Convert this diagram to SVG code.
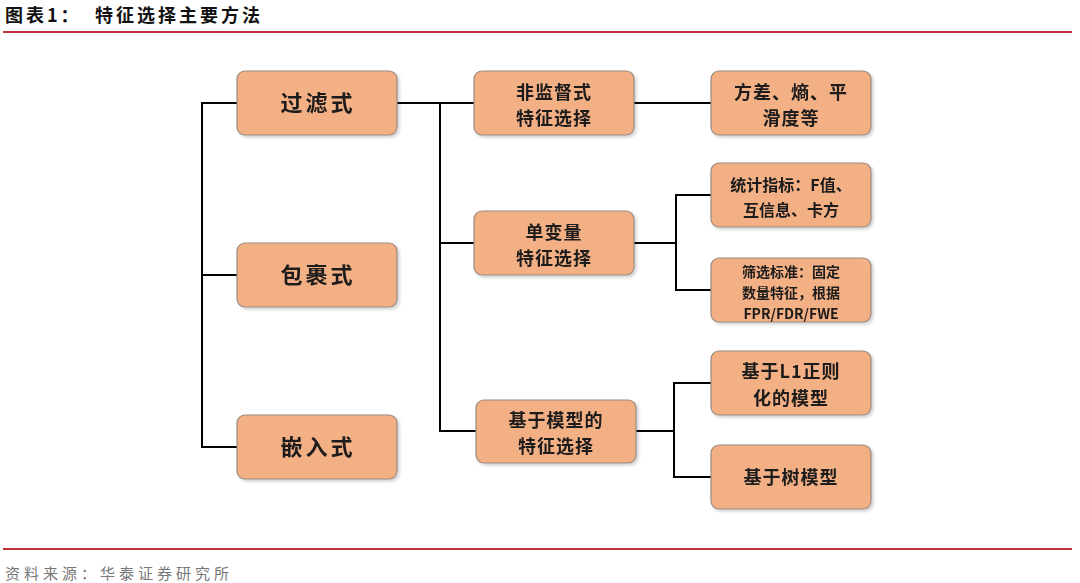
<svg xmlns="http://www.w3.org/2000/svg" width="1080" height="583" viewBox="0 0 1080 583">
<style>
.n{fill:#F4B085;stroke:#9A8A80;stroke-width:1.2}
.t{font-family:"Noto Sans CJK SC","Liberation Sans",sans-serif;font-weight:bold;fill:#1a1a1a;text-anchor:middle}
.big{font-size:22px;letter-spacing:3px}
.mid{font-size:18px;letter-spacing:1px}
.sm{font-size:16px}
.xs{font-size:14px}
.c{stroke:#000;stroke-width:2;fill:none}
.hd{font-family:"Noto Sans CJK SC",sans-serif;font-weight:bold;font-size:18px;fill:#111;letter-spacing:3px}
</style>
<defs>
<filter id="sh" x="-10%" y="-10%" width="130%" height="130%"><feDropShadow dx="2" dy="2" stdDeviation="1.5" flood-color="#000" flood-opacity="0.18"/></filter>
</defs>
<rect width="1080" height="583" fill="#fff"/>
<g id="title">
<text class="hd" x="5" y="22">图表1：</text>
<text class="hd" x="95" y="22">特征选择主要方法</text>
<line x1="3" y1="32" x2="1072" y2="32" stroke="#C0313A" stroke-width="2"/>
<line x1="3" y1="549" x2="1072" y2="549" stroke="#C0313A" stroke-width="2"/>
<text x="5" y="579" font-family="'Noto Sans CJK SC',sans-serif" font-size="15" fill="#777" letter-spacing="4">资料来源：华泰证券研究所</text>
</g>
<g id="connectors">
<path class="c" d="M237 103H202V447H237M202 275H237"/>
<path class="c" d="M397 103H474M440 103V431H476M440 243H474"/>
<path class="c" d="M634 103H711"/>
<path class="c" d="M634 243H676M711 195H676V290H711"/>
<path class="c" d="M636 431H674M711 383H674V477H711"/>
</g>
<g id="n1" filter="url(#sh)"><rect class="n" x="237" y="71" width="160" height="64" rx="8"/><text class="t big" x="318" y="111">过滤式</text></g>
<g id="n2" filter="url(#sh)"><rect class="n" x="237" y="243" width="160" height="64" rx="8"/><text class="t big" x="318" y="283">包裹式</text></g>
<g id="n3" filter="url(#sh)"><rect class="n" x="237" y="415" width="160" height="64" rx="8"/><text class="t big" x="318" y="455">嵌入式</text></g>
<g id="n4" filter="url(#sh)"><rect class="n" x="474" y="71" width="160" height="64" rx="8"/><text class="t mid" x="554" y="99">非监督式</text><text class="t mid" x="554" y="125">特征选择</text></g>
<g id="n5" filter="url(#sh)"><rect class="n" x="474" y="211" width="160" height="64" rx="8"/><text class="t mid" x="554" y="239">单变量</text><text class="t mid" x="554" y="265">特征选择</text></g>
<g id="n6" filter="url(#sh)"><rect class="n" x="476" y="400" width="160" height="63" rx="8"/><text class="t mid" x="556" y="427">基于模型的</text><text class="t mid" x="556" y="453">特征选择</text></g>
<g id="n7" filter="url(#sh)"><rect class="n" x="711" y="71" width="160" height="64" rx="8"/><text class="t mid" x="791" y="99">方差、熵、平</text><text class="t mid" x="791" y="125">滑度等</text></g>
<g id="n8" filter="url(#sh)"><rect class="n" x="711" y="163" width="160" height="64" rx="8"/><text class="t sm" x="791" y="191">统计指标：F值、</text><text class="t sm" x="791" y="216">互信息、卡方</text></g>
<g id="n9" filter="url(#sh)"><rect class="n" x="711" y="258" width="160" height="64" rx="8"/><text class="t xs" x="791" y="277">筛选标准：固定</text><text class="t xs" x="791" y="298">数量特征，根据</text><text class="t xs" x="791" y="319">FPR/FDR/FWE</text></g>
<g id="n10" filter="url(#sh)"><rect class="n" x="711" y="351" width="160" height="64" rx="8"/><text class="t mid" x="791" y="378">基于L1正则</text><text class="t mid" x="791" y="405">化的模型</text></g>
<g id="n11" filter="url(#sh)"><rect class="n" x="711" y="445" width="160" height="64" rx="8"/><text class="t mid" x="791" y="484">基于树模型</text></g>
</svg>
